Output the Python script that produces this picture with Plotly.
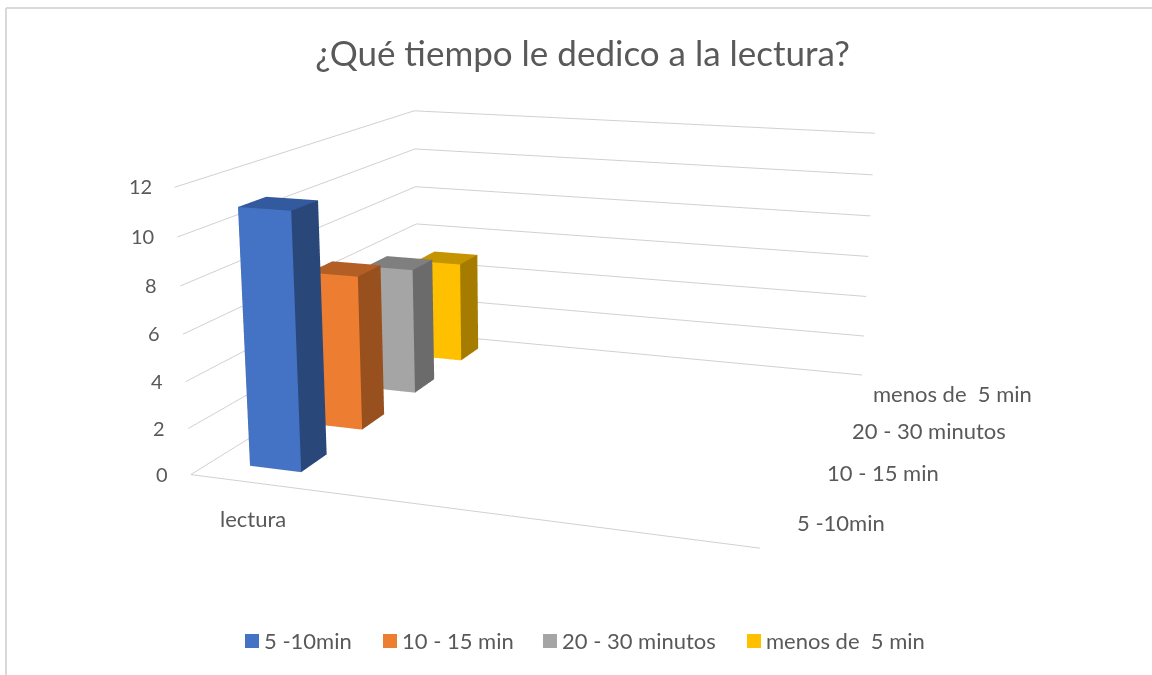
import plotly.graph_objects as go

categoria = ["lectura"]
series = ["5 -10min", "10 - 15 min", "20 - 30 minutos", "menos de  5 min"]
valores = [11, 7, 6, 5]
ticks_z = [0, 2, 4, 6, 8, 10, 12]

color_frente = ["#4472C4", "#ED7D31", "#A5A5A5", "#FFC000"]
color_lado = ["#2A477A", "#99501F", "#6B6B6B", "#A67C00"]
color_tope = ["#335A9E", "#B35E25", "#7F7F7F", "#C49500"]
GRIS = "#D9D9D9"
TEXTO = "#595959"
FUENTE = "Lato"

# la perspectiva de Excel pide una vista mas grande que la ventana: el div se corre arriba/izquierda
ANCHO, ALTO = 1240, 1410
DX, DY = -86, -366


def px(x):
    return (x - DX) / ANCHO


def py(y):
    return 1 - (y - DY) / ALTO


def barra(i, valor):
    """Prisma de una serie: 8 vertices y 12 triangulos."""
    x0, x1 = 0.0745, 0.1745
    y0, y1 = i + 0.3, i + 0.7
    xs = [x0, x1, x1, x0, x0, x1, x1, x0]
    ys = [y0, y0, y1, y1, y0, y0, y1, y1]
    zs = [0, 0, 0, 0, valor, valor, valor, valor]
    caras = [(0, 1, 5), (0, 5, 4), (1, 2, 6), (1, 6, 5), (4, 5, 6), (4, 6, 7),
             (2, 3, 7), (2, 7, 6), (3, 0, 4), (3, 4, 7), (0, 1, 2), (0, 2, 3)]
    a, b, c = zip(*caras)
    tonos = [color_frente[i]] * 2 + [color_lado[i]] * 2 + [color_tope[i]] * 2 + [color_lado[i]] * 6
    return go.Mesh3d(
        x=xs, y=ys, z=zs, i=a, j=b, k=c, facecolor=tonos,
        flatshading=True, lighting=dict(ambient=1, diffuse=0, specular=0, fresnel=0),
        name=series[i], hoverinfo="skip",
    )


fig = go.Figure([barra(i, v) for i, v in enumerate(valores)])

fuente_z = dict(family=FUENTE, size=20, color=TEXTO)
fuente = dict(family=FUENTE, size=22, color=TEXTO)
etiquetas = [dict(x=0, y=0, z=z, text=str(z), xanchor="right", xshift=-21, yshift=1, font=fuente_z, showarrow=False)
             for z in ticks_z]
etiquetas += [dict(x=1, y=i + 0.5, z=0, text=s, xanchor="left", xshift=19, yshift=-2, font=fuente, showarrow=False)
              for i, s in enumerate(series)]
etiquetas += [dict(x=0.124, y=0, z=0, text=categoria[0], xshift=-2, yshift=-36, font=fuente, showarrow=False)]

# leyenda a mano: la nativa deja otro hueco entre muestra y texto
leyenda_x = [245, 383, 543, 747]
marcos = [
    dict(type="line", xref="paper", yref="paper", x0=px(6), x1=px(1152), y0=py(8), y1=py(8),
         line=dict(color=GRIS, width=2)),
    dict(type="line", xref="paper", yref="paper", x0=px(6), x1=px(6), y0=py(8), y1=py(675),
         line=dict(color=GRIS, width=2)),
]
textos = []
for s, c, x in zip(series, color_frente, leyenda_x):
    marcos.append(dict(type="rect", xref="paper", yref="paper", x0=px(x), x1=px(x + 14), y0=py(634), y1=py(648),
                       fillcolor=c, line=dict(width=0)))
    textos.append(dict(xref="paper", yref="paper", x=px(x + 17), y=py(640), text=s, xanchor="left",
                       yanchor="middle", showarrow=False, font=fuente))

eje = dict(showticklabels=False, ticks="", title=dict(text=""), showbackground=False,
           zeroline=False, showspikes=False)
fig.update_layout(
    width=ANCHO, height=ALTO, margin=dict(l=0, r=0, t=0, b=0),
    paper_bgcolor="white",
    showlegend=False,
    title=dict(text="¿Qué tiempo le dedico a la lectura?", x=px(582.5), xanchor="center",
               y=py(54), yanchor="middle", font=dict(family=FUENTE, size=35, color=TEXTO)),
    scene=dict(
        domain=dict(x=[0, 1], y=[0, 1]),
        aspectmode="manual", aspectratio=dict(x=1.97797, y=1.97218, z=0.9962),
        camera=dict(eye=dict(x=1.95239, y=-5.78104, z=1.48757),
                    center=dict(x=-0.06517, y=-0.0726, z=-0.16793),
                    up=dict(x=-0.00166, y=-0.00059, z=1),
                    projection=dict(type="perspective")),
        xaxis=dict(range=[0, 1], showgrid=False, showline=True, linecolor="#D0D0D0", linewidth=2, **eje),
        yaxis=dict(range=[0, 4], showgrid=False, showline=False, **eje),
        zaxis=dict(range=[0, 12], tickvals=ticks_z, showgrid=True, gridcolor="#D0D0D0", gridwidth=2,
                   showline=False, **eje),
        annotations=etiquetas,
    ),
    shapes=marcos,
    annotations=textos,
)

correr = (
    "var gd=document.getElementById('{plot_id}');gd.style.position='absolute';"
    f"gd.style.left='{DX}px';gd.style.top='{DY}px';"
    "document.documentElement.style.overflow='hidden';document.body.style.overflow='hidden';"
)
fig.write_html("out.html", post_script=correr)
